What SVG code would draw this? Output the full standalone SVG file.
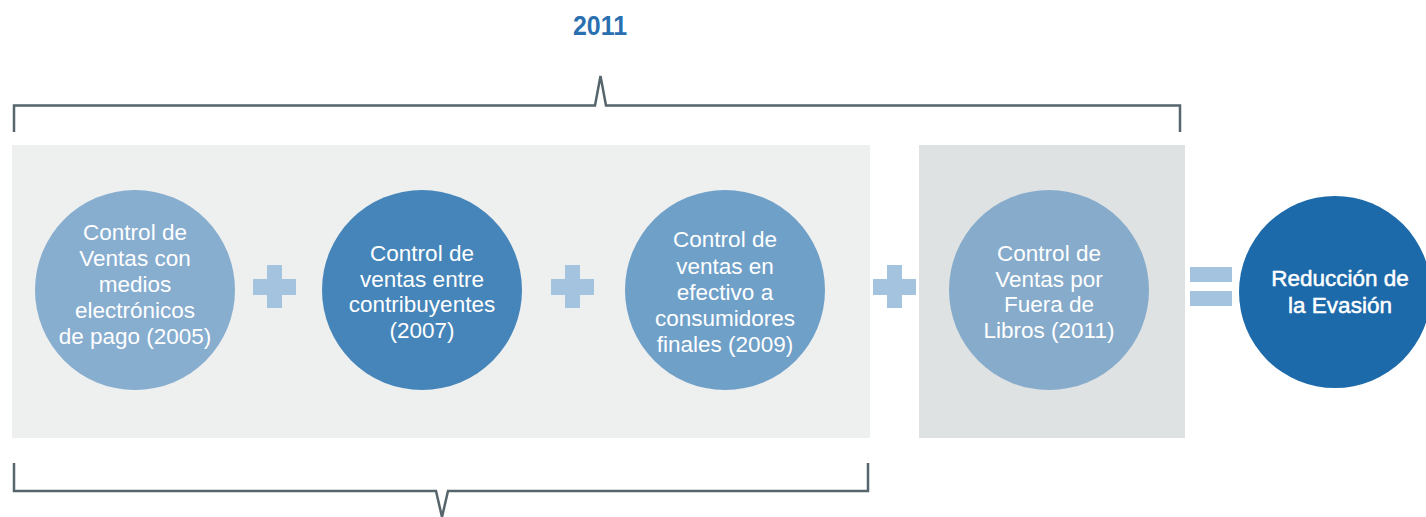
<svg xmlns="http://www.w3.org/2000/svg" width="1426" height="517" viewBox="0 0 1426 517">
<style>
.br{fill:none;stroke:#56646C;stroke-width:2.5}
.t{font-family:"Liberation Sans",Arial,sans-serif;font-size:22.5px;fill:#fff;text-anchor:middle}
.sym{fill:#A4C3DE}
</style>
<rect width="1426" height="517" fill="#fff"/>
<g id="bg">
<rect x="12" y="145" width="858" height="293" fill="#EEEFEF"/>
<rect x="919" y="145" width="266" height="293" fill="#DFE2E3"/>
</g>
<g id="connectors">
<path class="br" d="M14,132 V105.5 H595 L600.5,76 L606,105.5 H1180 V132"/>
<path class="br" d="M14,463 V491 H436 L442,517 L448,491 H868 V463"/>
<g class="sym">
<rect x="253" y="279" width="43" height="16"/><rect x="267" y="265" width="15" height="43"/>
<rect x="551" y="279" width="43" height="16"/><rect x="565" y="265" width="15" height="43"/>
<rect x="873" y="279" width="43" height="16"/><rect x="887" y="265" width="15" height="43"/>
<rect x="1190" y="267" width="42" height="15"/><rect x="1190" y="291" width="42" height="15"/>
</g>
</g>
<text x="600" y="35" font-family="'Liberation Sans',Arial,sans-serif" font-size="27" font-weight="bold" fill="#2A6FAF" text-anchor="middle" textLength="54" lengthAdjust="spacingAndGlyphs">2011</text>
<g id="n1">
<circle cx="135" cy="290" r="100" fill="#87ADCF"/>
<text class="t"><tspan x="135" y="240">Control de</tspan><tspan x="135" y="266">Ventas con</tspan><tspan x="135" y="292">medios</tspan><tspan x="135" y="318">electrónicos</tspan><tspan x="135" y="344">de pago (2005)</tspan></text>
</g>
<g id="n2">
<circle cx="422" cy="290" r="100" fill="#4585B9"/>
<text class="t"><tspan x="422" y="261">Control de</tspan><tspan x="422" y="287">ventas entre</tspan><tspan x="422" y="312">contribuyentes</tspan><tspan x="422" y="338">(2007)</tspan></text>
</g>
<g id="n3">
<circle cx="725" cy="290" r="100" fill="#6FA0C8"/>
<text class="t"><tspan x="725" y="247">Control de</tspan><tspan x="725" y="274">ventas en</tspan><tspan x="725" y="300">efectivo a</tspan><tspan x="725" y="326">consumidores</tspan><tspan x="725" y="352">finales (2009)</tspan></text>
</g>
<g id="n4">
<circle cx="1049" cy="290" r="100" fill="#86ABCB"/>
<text class="t"><tspan x="1049" y="261">Control de</tspan><tspan x="1049" y="287">Ventas por</tspan><tspan x="1049" y="312">Fuera de</tspan><tspan x="1049" y="338">Libros (2011)</tspan></text>
</g>
<g id="n5">
<circle cx="1335" cy="292" r="96" fill="#1C6AAA"/>
<text class="t" stroke="#fff" stroke-width="0.5"><tspan x="1340" y="286">Reducción de</tspan><tspan x="1340" y="313">la Evasión</tspan></text>
</g>
</svg>
